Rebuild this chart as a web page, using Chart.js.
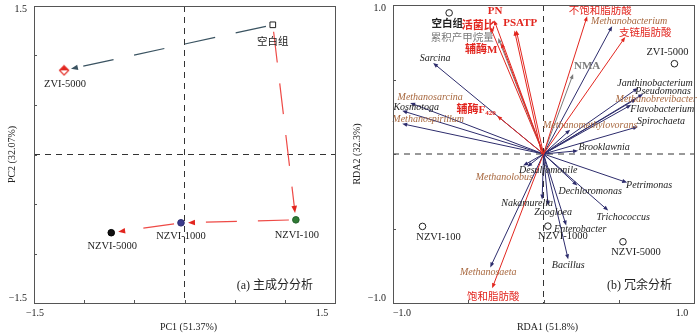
<!DOCTYPE html>
<html>
<head>
<meta charset="utf-8">
<script src="https://cdn.jsdelivr.net/npm/chart.js@4.4.1/dist/chart.umd.min.js"></script>
<style>
  html, body { margin: 0; padding: 0; background: #fff; }
  .panel { position: absolute; top: 0; width: 350px; height: 333px; }
  #pca-box { left: 0; }
  #rda-box { left: 350px; }
</style>
</head>
<body>
<div class="panel" id="pca-box"><canvas id="pca" width="350" height="333"></canvas></div>
<div class="panel" id="rda-box"><canvas id="rda" width="350" height="333"></canvas></div>
<script>
/* ---------- (a) PCA scores ---------- */
const pcaGroups = ['空白组', 'ZVI-5000', 'NZVI-100', 'NZVI-1000', 'NZVI-5000'];
const pcaPC1 = [0.88, -1.20, 1.11, -0.035, -0.73];
const pcaPC2 = [1.31, 0.85, -0.66, -0.69, -0.79];
// trajectory between groups (index pairs)
const pcaPathFrom = [0, 0, 2, 3];
const pcaPathTo = [1, 2, 3, 4];

/* ---------- (b) RDA biplot ---------- */
const rdaSites = ['空白组', 'ZVI-5000', 'NZVI-100', 'NZVI-1000', 'NZVI-5000'];
const rdaSiteX = [-0.627, 0.870, -0.804, 0.029, 0.528];
const rdaSiteY = [0.947, 0.606, -0.486, -0.484, -0.589];

const envNames = ['PN', '活菌比', '累积产甲烷量', '辅酶M', 'PSATP', '辅酶F420', 'NMA', '不饱和脂肪酸', '支链脂肪酸', '饱和脂肪酸'];
const envX = [-0.328, -0.354, -0.301, -0.281, -0.181, -0.308, 0.197, 0.290, 0.543, -0.341];
const envY = [0.898, 0.852, 0.778, 0.745, 0.831, 0.256, 0.537, 0.925, 0.785, -0.901];

const taxaNames = ['Sarcina', 'Methanosarcina', 'Kosmotoga', 'Methanospirillum', 'Methanobacterium',
  'Janthinobacterium', 'Pseudomonas', 'Methanobrevibacter', 'Flavobacterium', 'Spirochaeta',
  'Methanomethylovorans', 'Brooklawnia', 'Petrimonas', 'Dechloromonas', 'Trichococcus',
  'Enterobacter', 'Bacillus', 'Zoogloea', 'Nakamurella', 'Desulfomonile', 'Methanolobus', 'Methanosaeta'];
const taxaX = [-0.733, -0.886, -0.939, -0.939, 0.456, 0.628, 0.662, 0.616, 0.583, 0.628,
  0.177, 0.230, 0.556, 0.224, 0.430, 0.151, 0.164, 0.031, -0.009, -0.135, -0.108, -0.354];
const taxaY = [0.611, 0.343, 0.290, 0.203, 0.858, 0.443, 0.403, 0.370, 0.330, 0.183,
  0.163, 0.022, -0.192, -0.212, -0.380, -0.480, -0.707, -0.346, -0.306, -0.078, -0.085, -0.761];

/* ---------- look ---------- */
const SERIF = "'Liberation Serif', 'Noto Sans CJK SC', serif";
const RED = '#e2261f', RED_LINE = '#ee4a46', SLATE = '#3a5361', NAVY = '#2d2c6c';
const GRAY = '#7b7b7b', BROWN = '#a8683f', AXIS = '#555';
const envGray = ['累积产甲烷量', 'NMA'];
const envBold = ['PN', 'PSATP', 'NMA', '活菌比', '辅酶M', '辅酶F420'];
const envDouble = ['PSATP'];

// label offsets from their anchor, px
const pcaLabelOff = [[0, 17], [1, 14], [1, 15], [0, 13], [1, 14]];
const siteLabelOff = [[-2, 11], [-7, -11], [16, 11], [15, 10], [13, 10]];
const envLabelOff = {
  'PN': [1, -9], '活菌比': [-12, -1], '累积产甲烷量': [-36, 0], '辅酶M': [-20, 7], 'PSATP': [4, -7],
  '辅酶F420': [-21, -6], 'NMA': [14, -8], '不饱和脂肪酸': [13, -5], '支链脂肪酸': [20, -4], '饱和脂肪酸': [1, 9]
};
const taxaLabelOff = {
  Sarcina: [2, -5], Methanosarcina: [20, -6], Kosmotoga: [14, -3], Methanospirillum: [26, -4],
  Methanobacterium: [17, -5], Janthinobacterium: [17, -5], Pseudomonas: [20, -3],
  Methanobrevibacter: [20, 1], Flavobacterium: [31, 5], Spirochaeta: [23, -5],
  Methanomethylovorans: [20, -4], Brooklawnia: [26, -3], Petrimonas: [22, 3],
  Dechloromonas: [13, 6], Trichococcus: [15, 7], Enterobacter: [14, 4], Bacillus: [0, 6],
  Zoogloea: [5, 7], Nakamurella: [-15, 4], Desulfomonile: [25, 5], Methanolobus: [-23, 11],
  Methanosaeta: [-2, 5]
};

/* ---------- drawing helpers ---------- */
function head(ctx, tx, ty, ux, uy, len, half, color) {
  const bx = tx - ux * len, by = ty - uy * len;
  ctx.beginPath();
  ctx.moveTo(tx, ty);
  ctx.lineTo(bx - uy * half, by + ux * half);
  ctx.lineTo(bx + uy * half, by - ux * half);
  ctx.closePath();
  ctx.fillStyle = color;
  ctx.fill();
}

function trail(ctx, x0, y0, x1, y1, color, headColor) {
  const L = Math.hypot(x1 - x0, y1 - y0), ux = (x1 - x0) / L, uy = (y1 - y0) / L;
  const sx = x0 + ux * 7, sy = y0 + uy * 7, tx = x1 - ux * 7, ty = y1 - uy * 7;
  ctx.save();
  ctx.setLineDash([31, 21]);
  ctx.strokeStyle = color;
  ctx.lineWidth = 1.2;
  ctx.beginPath();
  ctx.moveTo(sx, sy);
  ctx.lineTo(tx - ux * 6, ty - uy * 6);
  ctx.stroke();
  ctx.restore();
  head(ctx, tx, ty, ux, uy, 7, 2.8, headColor);
}

function vector(ctx, x0, y0, x1, y1, color, double) {
  const L = Math.hypot(x1 - x0, y1 - y0), ux = (x1 - x0) / L, uy = (y1 - y0) / L;
  ctx.strokeStyle = color;
  ctx.lineWidth = 1;
  ctx.beginPath();
  ctx.moveTo(x0, y0);
  ctx.lineTo(x1 - ux * 4, y1 - uy * 4);
  if (double) {
    // second stroke beside the first
    ctx.moveTo(x0 + uy * 1.8, y0 - ux * 1.8);
    ctx.lineTo(x1 - ux * 4 + uy * 1.8, y1 - uy * 4 - ux * 1.8);
  }
  ctx.stroke();
  head(ctx, x1, y1, ux, uy, 5, 2, color);
  if (double) head(ctx, x1 + uy * 1.8, y1 - ux * 1.8, ux, uy, 5, 2, color);
}

function zeroLines(ctx, a, zx, zy) {
  ctx.save();
  ctx.setLineDash([6, 5]);
  ctx.strokeStyle = '#333';
  ctx.lineWidth = 1;
  ctx.beginPath();
  ctx.moveTo(a.left, zy); ctx.lineTo(a.right, zy);
  ctx.moveTo(zx, a.top); ctx.lineTo(zx, a.bottom);
  ctx.stroke();
  ctx.restore();
}

// box + inward ticks + end labels + titles
function frame(chart, step, ends, xTitle, yTitle, yTitleX, caption, xLabAdj) {
  const { ctx, chartArea: a, scales: { x, y } } = chart;
  ctx.save();
  ctx.strokeStyle = AXIS;
  ctx.lineWidth = 1;
  ctx.strokeRect(a.left + 0.5, a.top + 0.5, a.right - a.left, a.bottom - a.top);
  ctx.beginPath();
  for (let v = x.min; v <= x.max + 1e-9; v += step) {
    const px = Math.round(x.getPixelForValue(v)) + 0.5;
    ctx.moveTo(px, a.bottom); ctx.lineTo(px, a.bottom - 3);
  }
  for (let v = y.min; v <= y.max + 1e-9; v += step) {
    const py = Math.round(y.getPixelForValue(v)) + 0.5;
    ctx.moveTo(a.left, py); ctx.lineTo(a.left + 3, py);
  }
  ctx.stroke();

  ctx.fillStyle = '#222';
  ctx.font = '10px ' + SERIF;
  ctx.textBaseline = 'middle';
  ctx.textAlign = 'right';
  ctx.fillText(ends[1], a.left - 7, a.top + 3);
  ctx.fillText(ends[0], a.left - 7, a.bottom - 5);
  ctx.textAlign = 'center';
  ctx.fillText(ends[0], a.left + xLabAdj[0], a.bottom + 10);
  ctx.fillText(ends[1], a.right + xLabAdj[1], a.bottom + 10);
  ctx.fillText(xTitle, (a.left + a.right) / 2 + 4, a.bottom + 24);
  ctx.save();
  ctx.translate(yTitleX, (a.top + a.bottom) / 2);
  ctx.rotate(-Math.PI / 2);
  ctx.fillText(yTitle, 0, 0);
  ctx.restore();

  ctx.font = '12px ' + SERIF;
  ctx.textAlign = 'right';
  ctx.fillText(caption, a.right - 22, a.bottom - 17);
  ctx.restore();
}

function label(ctx, text, x, y, font, color) {
  ctx.fillStyle = color;
  ctx.font = font;
  ctx.textAlign = 'center';
  ctx.textBaseline = 'middle';
  if (text === '辅酶F420') {
    const main = '辅酶F', sub = '420';
    const w1 = ctx.measureText(main).width;
    const subFont = font.replace(/\d+(\.\d+)?px/, '7px');
    ctx.font = subFont;
    const w2 = ctx.measureText(sub).width;
    const left = x - (w1 + w2) / 2;
    ctx.textAlign = 'left';
    ctx.font = font;
    ctx.fillText(main, left, y);
    ctx.font = subFont;
    ctx.fillText(sub, left + w1, y + 3);
    return;
  }
  ctx.fillText(text, x, y);
}

function halfDiamond() {
  const c = document.createElement('canvas');
  c.width = c.height = 12;
  const g = c.getContext('2d'), m = 6, r = 4.6;
  g.beginPath();
  g.moveTo(m, m - r); g.lineTo(m + r, m); g.lineTo(m - r, m); g.closePath();
  g.fillStyle = RED; g.fill();
  g.beginPath();
  g.moveTo(m, m - r); g.lineTo(m + r, m); g.lineTo(m, m + r); g.lineTo(m - r, m); g.closePath();
  g.strokeStyle = RED; g.lineWidth = 1.1; g.stroke();
  return c;
}

const baseOptions = (lim, padding) => ({
  responsive: false,
  animation: false,
  events: [],
  layout: { padding },
  plugins: { legend: { display: false }, tooltip: { enabled: false } },
  scales: {
    x: { type: 'linear', min: -lim, max: lim, display: false },
    y: { type: 'linear', min: -lim, max: lim, display: false }
  }
});

/* ---------- (a) ---------- */
const pcaDecor = {
  id: 'pcaDecor',
  beforeDatasetsDraw(chart) {
    const { ctx, chartArea: a, scales: { x, y } } = chart;
    zeroLines(ctx, a, x.getPixelForValue(0), y.getPixelForValue(0));
    pcaPathFrom.forEach((f, i) => {
      const t = pcaPathTo[i];
      trail(ctx,
        x.getPixelForValue(pcaPC1[f]), y.getPixelForValue(pcaPC2[f]),
        x.getPixelForValue(pcaPC1[t]), y.getPixelForValue(pcaPC2[t]),
        i === 0 ? SLATE : RED_LINE, i === 0 ? SLATE : RED);
    });
  },
  afterDatasetsDraw(chart) {
    const { ctx, scales: { x, y } } = chart;
    ctx.save();
    pcaGroups.forEach((g, i) => {
      label(ctx, g, x.getPixelForValue(pcaPC1[i]) + pcaLabelOff[i][0],
        y.getPixelForValue(pcaPC2[i]) + pcaLabelOff[i][1], '10.5px ' + SERIF, '#222');
    });
    ctx.restore();
    frame(chart, 0.5, ['\u22121.5', '1.5'], 'PC1 (51.37%)', 'PC2 (32.07%)', 12, '(a) 主成分分析', [1, -13]);
  }
};

new Chart(document.getElementById('pca'), {
  type: 'scatter',
  data: {
    datasets: [{
      data: pcaPC1.map((v, i) => ({ x: v, y: pcaPC2[i] })),
      pointStyle: ['rect', halfDiamond(), 'circle', 'circle', 'circle'],
      pointRadius: [4, 5, 3.3, 3.3, 3.3],
      backgroundColor: ['#fff', RED, '#2f7a34', '#3b3a8c', '#111'],
      borderColor: ['#222', RED, '#22602a', '#2c2b70', '#000'],
      borderWidth: 1
    }]
  },
  options: baseOptions(1.5, { left: 34, right: 15, top: 4, bottom: 30 }),
  plugins: [pcaDecor]
});

/* ---------- (b) ---------- */
const rdaDecor = {
  id: 'rdaDecor',
  beforeDatasetsDraw(chart) {
    const { ctx, chartArea: a, scales: { x, y } } = chart;
    const ox = x.getPixelForValue(0), oy = y.getPixelForValue(0);
    zeroLines(ctx, a, ox, oy);
    ctx.save();
    taxaNames.forEach((n, i) => {
      vector(ctx, ox, oy, x.getPixelForValue(taxaX[i]), y.getPixelForValue(taxaY[i]), NAVY, false);
    });
    envNames.forEach((n, i) => {
      vector(ctx, ox, oy, x.getPixelForValue(envX[i]), y.getPixelForValue(envY[i]),
        envGray.includes(n) ? GRAY : RED, envDouble.includes(n));
    });
    ctx.restore();
  },
  afterDatasetsDraw(chart) {
    const { ctx, scales: { x, y } } = chart;
    ctx.save();
    taxaNames.forEach((n, i) => {
      const o = taxaLabelOff[n];
      label(ctx, n, x.getPixelForValue(taxaX[i]) + o[0], y.getPixelForValue(taxaY[i]) + o[1],
        'italic 10px ' + SERIF, n.startsWith('Methano') ? BROWN : '#222');
    });
    envNames.forEach((n, i) => {
      const o = envLabelOff[n];
      const font = (envBold.includes(n) ? 'bold 11px ' : '10.5px ') + SERIF;
      label(ctx, n, x.getPixelForValue(envX[i]) + o[0], y.getPixelForValue(envY[i]) + o[1],
        font, envGray.includes(n) ? GRAY : RED);
    });
    rdaSites.forEach((s, i) => {
      label(ctx, s, x.getPixelForValue(rdaSiteX[i]) + siteLabelOff[i][0],
        y.getPixelForValue(rdaSiteY[i]) + siteLabelOff[i][1],
        (i === 0 ? 'bold ' : '') + '10.5px ' + SERIF, '#222');
    });
    ctx.restore();
    frame(chart, 0.5, ['\u22121.0', '1.0'], 'RDA1 (51.8%)', 'RDA2 (32.3%)', 7, '(b) 冗余分析', [9, -12]);
  }
};

new Chart(document.getElementById('rda'), {
  type: 'scatter',
  data: {
    datasets: [{
      data: rdaSiteX.map((v, i) => ({ x: v, y: rdaSiteY[i] })),
      pointStyle: 'circle',
      pointRadius: 3.3,
      backgroundColor: '#fff',
      borderColor: '#222',
      borderWidth: 1
    }]
  },
  options: baseOptions(1, { left: 43, right: 6, top: 4, bottom: 30 }),
  plugins: [rdaDecor]
});
</script>
</body>
</html>
